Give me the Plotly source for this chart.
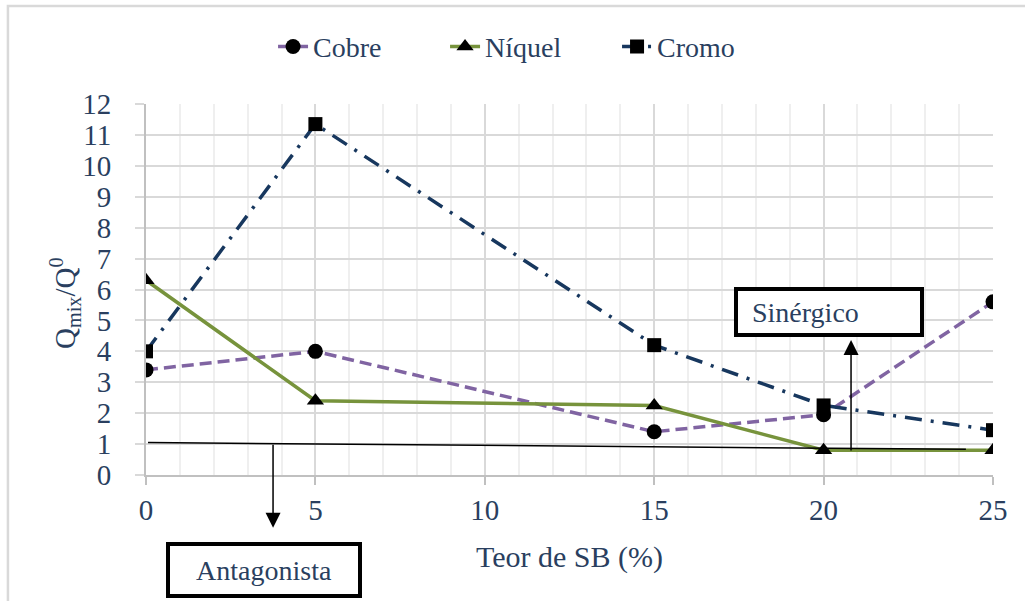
import plotly.graph_objects as go

# Teor de SB (%) and the Qmix/Q0 ratio of each metal
teor_sb = [0, 5, 15, 20, 25]
cobre = [3.4, 4.0, 1.4, 1.95, 5.6]
niquel = [6.3, 2.4, 2.25, 0.8, 0.8]
cromo = [4.0, 11.35, 4.2, 2.25, 1.45]

# reference line separating the antagonistic / synergistic zones
ref_x = [0.06, 24.2]
ref_y = [1.05, 0.83]

# arrows (x, tail y, head y) in data units
antag_arrow = (3.75, 1.03, -1.71)
siner_arrow = (20.81, 0.74, 4.37)

SERIF = "Liberation Serif"
INK = "#000000"

fig = go.Figure()

fig.add_trace(go.Scatter(
    x=teor_sb, y=cobre, name="Cobre", mode="lines+markers",
    line=dict(color="#8064A2", width=3.5, dash="12px,6px"),
    marker=dict(symbol="circle", size=15, color=INK),
))
fig.add_trace(go.Scatter(
    x=teor_sb, y=niquel, name="Níquel", mode="lines+markers",
    line=dict(color="#77933C", width=3.5),
    marker=dict(symbol="triangle-up", size=15, color=INK),
))
fig.add_trace(go.Scatter(
    x=teor_sb, y=cromo, name="Cromo", mode="lines+markers",
    line=dict(color="#17375E", width=3.5, dash="17px,9px,3px,9px"),
    marker=dict(symbol="square", size=14, color=INK),
))
fig.add_trace(go.Scatter(
    x=ref_x, y=ref_y, mode="lines", showlegend=False, hoverinfo="skip",
    line=dict(color=INK, width=1.5),
))

arrow_style = dict(
    xref="x", yref="y", axref="x", ayref="y", text="", showarrow=True,
    arrowhead=2, arrowsize=2, arrowwidth=1.5, arrowcolor=INK, standoff=0,
)
fig.add_annotation(x=antag_arrow[0], y=antag_arrow[2], ax=antag_arrow[0], ay=antag_arrow[1], **arrow_style)
fig.add_annotation(x=siner_arrow[0], y=siner_arrow[2], ax=siner_arrow[0], ay=siner_arrow[1], **arrow_style)

box_style = dict(
    xref="paper", yref="paper", showarrow=False, bgcolor="white",
    bordercolor=INK, borderwidth=4, borderpad=0,
    xanchor="center", yanchor="middle",
    font=dict(family=SERIF, size=28),
)
fig.add_annotation(x=0.1393, y=-0.256, text="Antagonista",
                   width=188, height=48, **box_style)
fig.add_annotation(x=0.806, y=0.4394, text="&nbsp;&nbsp;Sinérgico", align="left",
                   width=182, height=42, **box_style)

# y-axis title
fig.add_annotation(
    xref="paper", yref="paper", x=-0.0956, y=0.4636, showarrow=False,
    text="Q<sub>mix</sub>/Q<sup>0</sup>", textangle=-90,
    xanchor="center", yanchor="middle",
    font=dict(family=SERIF, size=29),
)

# light outer frame of the chart
fig.add_shape(type="rect", xref="paper", yref="paper",
              x0=-0.163, y0=-0.37, x1=1.05, y1=1.264,
              line=dict(color="#d9d9d9", width=2.5), layer="below")

fig.update_layout(
    width=1025, height=601,
    margin=dict(l=146, r=32, t=104, b=126),
    paper_bgcolor="white", plot_bgcolor="white",
    showlegend=True,
    legend=dict(
        orientation="h", x=0.15, xanchor="left", y=1.154, yanchor="middle",
        font=dict(family=SERIF, size=28),
        bgcolor="rgba(0,0,0,0)", entrywidth=127,
    ),
    xaxis=dict(
        range=[0, 25], dtick=5, tick0=0,
        showgrid=True, gridcolor="#d9d9d9", gridwidth=2,
        minor=dict(dtick=1, showgrid=True, gridcolor="#efefef", gridwidth=1.5),
        showline=True, linecolor="#c0c0c0", linewidth=2,
        ticks="outside", ticklen=8, tickwidth=2, tickcolor="#c0c0c0",
        tickfont=dict(family=SERIF, size=29),
        title=dict(text="Teor de SB (%)", font=dict(family=SERIF, size=30), standoff=21),
        zeroline=False,
    ),
    yaxis=dict(
        range=[0, 12], dtick=1, tick0=0,
        showgrid=True, gridcolor="#d9d9d9", gridwidth=2,
        showline=True, linecolor="#c0c0c0", linewidth=2,
        ticks="outside", ticklen=9, tickwidth=2, tickcolor="#d9d9d9",
        ticklabelstandoff=18,
        tickfont=dict(family=SERIF, size=29),
        zeroline=False,
    ),
)

fig.write_html("out.html")
